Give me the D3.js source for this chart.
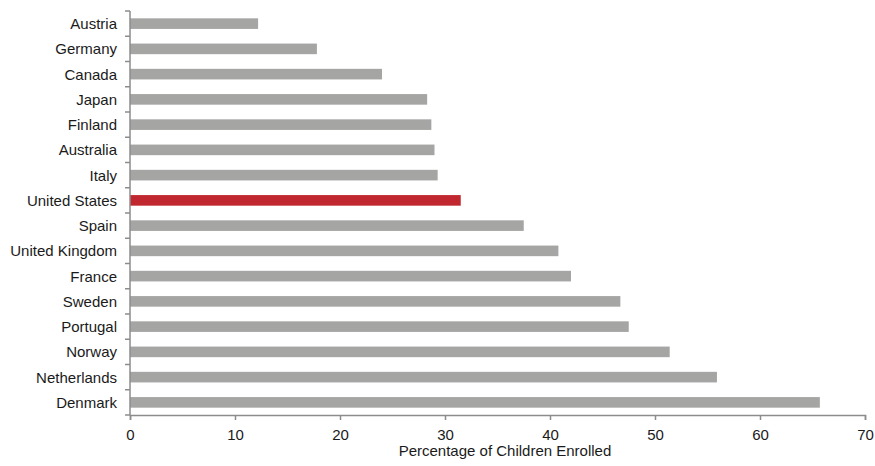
<!DOCTYPE html>
<html>
<head>
<meta charset="utf-8">
<script src="https://cdn.jsdelivr.net/npm/d3@7"></script>
<style>
  html, body { margin: 0; padding: 0; background: #fff; }
  svg { display: block; }
  text { font-family: "Liberation Sans", Arial, sans-serif; fill: #1a1a1a; }
</style>
</head>
<body>
<svg id="chart" width="875" height="466"></svg>
<script>
const countries = ["Austria","Germany","Canada","Japan","Finland","Australia","Italy","United States","Spain","United Kingdom","France","Sweden","Portugal","Norway","Netherlands","Denmark"];
const enrolled = [12.2,17.8,24.0,28.3,28.7,29.0,29.3,31.5,37.5,40.8,42.0,46.7,47.5,51.4,55.9,65.7];
const highlight = ["United States"];
const xTicks = [0,10,20,30,40,50,60,70];
const xTitle = "Percentage of Children Enrolled";

const svg = d3.select("#chart");
const mLeft = 130, mRight = 865, mTop = 11, mBottom = 415;
const axisColor = "#8c8c8c";

const x = d3.scaleLinear().domain([0, 70]).range([mLeft, mRight]);
const y = d3.scaleBand().domain(countries).range([mTop, mBottom]).paddingInner(0.58).paddingOuter(0.29);

// bars
svg.append("g").selectAll("rect").data(countries).join("rect")
  .attr("x", x(0))
  .attr("y", d => y(d))
  .attr("width", (d, i) => x(enrolled[i]) - x(0))
  .attr("height", y.bandwidth())
  .attr("fill", d => highlight.includes(d) ? "#c1272f" : "#a5a5a4");

// x axis
const xAxis = svg.append("g").attr("transform", `translate(0,${mBottom})`)
  .call(d3.axisBottom(x).tickValues(xTicks).tickSize(5).tickPadding(9).tickFormat(d3.format("d")));
xAxis.select(".domain").attr("stroke", axisColor).attr("stroke-width", 1.5);
xAxis.selectAll(".tick line").attr("stroke", axisColor).attr("stroke-width", 1.5);
xAxis.selectAll(".tick text").attr("font-size", 15).attr("font-family", "Liberation Sans, Arial, sans-serif").attr("fill", "#1a1a1a");

// y axis line
svg.append("line").attr("x1", mLeft).attr("x2", mLeft).attr("y1", mTop).attr("y2", mBottom)
  .attr("stroke", axisColor).attr("stroke-width", 1.5);
// y tick marks at band boundaries
const step = y.step();
const boundaries = d3.range(countries.length + 1).map(i => mTop + i * step);
svg.append("g").selectAll("line").data(boundaries).join("line")
  .attr("x1", mLeft - 5).attr("x2", mLeft)
  .attr("y1", d => d).attr("y2", d => d)
  .attr("stroke", axisColor).attr("stroke-width", 1.5);

// y labels
svg.append("g").selectAll("text").data(countries).join("text")
  .attr("x", mLeft - 13)
  .attr("y", d => y(d) + y.bandwidth() / 2)
  .attr("dy", "0.36em")
  .attr("text-anchor", "end")
  .attr("font-size", 15)
  .text(d => d);

// x title
svg.append("text")
  .attr("x", 505).attr("y", 456)
  .attr("text-anchor", "middle")
  .attr("font-size", 15)
  .text(xTitle);
</script>
</body>
</html>
